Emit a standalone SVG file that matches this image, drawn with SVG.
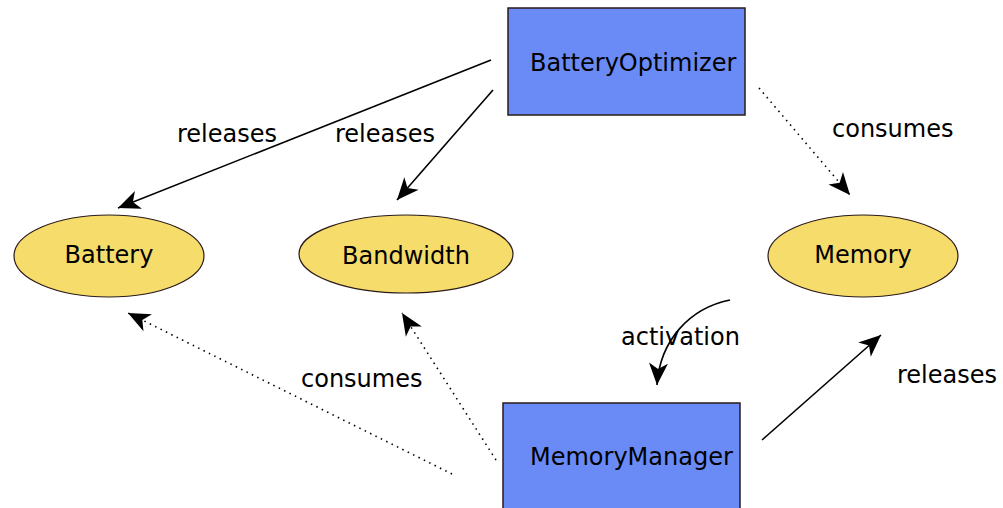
<svg xmlns="http://www.w3.org/2000/svg" width="1003" height="508" viewBox="0 0 1003 508">
<style>
text{font-family:"DejaVu Sans",sans-serif;font-size:24px;fill:#000}
.box{fill:#6a8bf5;stroke:#2a1a1a;stroke-width:1.5}
.ell{fill:#f5dc6b;stroke:#2a1a1a;stroke-width:1.2}
.solid{fill:none;stroke:#000;stroke-width:1.6}
.dot{fill:none;stroke:#000;stroke-width:1.6;stroke-dasharray:1.5 4.5}
</style>
<defs>
<marker id="ah" markerUnits="userSpaceOnUse" markerWidth="26" markerHeight="22" viewBox="-24 -11 26 22" refX="0" refY="0" orient="auto">
<path d="M0,0 L-22,-9.5 L-16,0 L-22,9.5 Z" fill="#000"/>
</marker>
</defs>
<rect width="1003" height="508" fill="#fff"/>
<g id="connectors">
<line class="solid" x1="491" y1="60" x2="118" y2="208" marker-end="url(#ah)"/>
<line class="solid" x1="493" y1="90" x2="397" y2="200" marker-end="url(#ah)"/>
<line class="dot" x1="759" y1="88" x2="850" y2="195" marker-end="url(#ah)"/>
<path class="solid" d="M730,300 C690,308 660,340 657,385" marker-end="url(#ah)"/>
<line class="solid" x1="762" y1="440" x2="881" y2="335" marker-end="url(#ah)"/>
<line class="dot" x1="496" y1="460" x2="402" y2="313" marker-end="url(#ah)"/>
<line class="dot" x1="452" y1="474" x2="128" y2="313" marker-end="url(#ah)"/>
<text x="177" y="142">releases</text>
<text x="335" y="142">releases</text>
<text x="832" y="137">consumes</text>
<text x="621" y="345">activation</text>
<text x="301" y="387">consumes</text>
<text x="897" y="383">releases</text>
</g>
<g id="BatteryOptimizer">
<rect class="box" x="508" y="8" width="237" height="107"/>
<text x="530" y="71">BatteryOptimizer</text>
</g>
<g id="MemoryManager">
<rect class="box" x="503" y="403" width="237" height="110"/>
<text x="530" y="465">MemoryManager</text>
</g>
<g id="Battery">
<ellipse class="ell" cx="109" cy="256" rx="95" ry="41"/>
<text x="109" y="263" text-anchor="middle">Battery</text>
</g>
<g id="Bandwidth">
<ellipse class="ell" cx="406" cy="254" rx="107" ry="39"/>
<text x="406" y="264" text-anchor="middle">Bandwidth</text>
</g>
<g id="Memory">
<ellipse class="ell" cx="863" cy="256" rx="95" ry="41"/>
<text x="863" y="263" text-anchor="middle">Memory</text>
</g>
</svg>
